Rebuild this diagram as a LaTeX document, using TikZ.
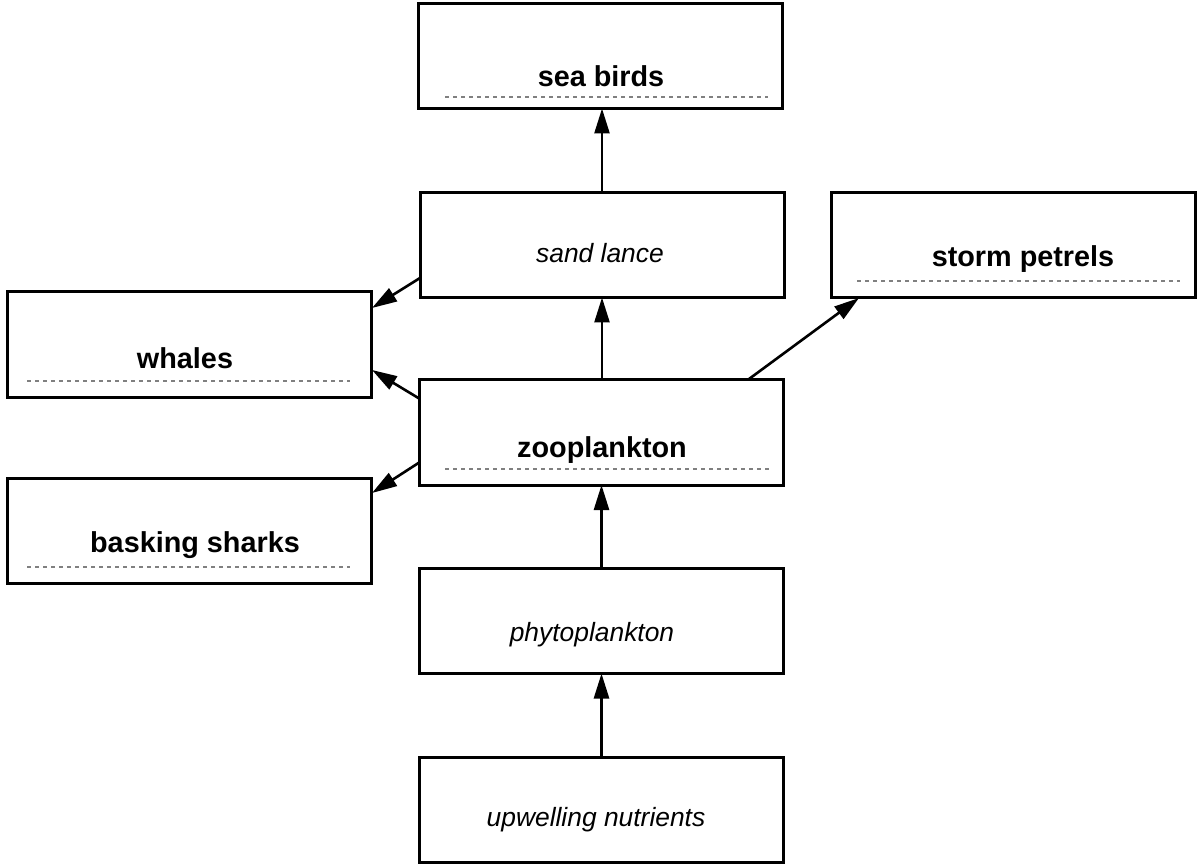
\documentclass[tikz,border=0pt]{standalone}
\usepackage{fontspec}
\setmainfont{Liberation Sans}
\usetikzlibrary{arrows.meta}
\begin{document}
\begin{tikzpicture}[x=0.5pt,y=-0.5pt,
  box/.style={draw=black,line width=1.5pt,fill=white,inner sep=0pt,outer sep=0pt},
  bigbox/.style={box,minimum width=182pt,minimum height=52.5pt},
  boldlbl/.style={font=\fontsize{14.4pt}{16pt}\selectfont\bfseries,anchor=base,inner sep=0pt},
  itlbl/.style={font=\fontsize{13.2pt}{15pt}\selectfont\itshape,anchor=base,inner sep=0pt},
  dotline/.style={draw=black!50,line width=1.2pt,dash pattern=on 1.8pt off 2.2pt},
  arr/.style={draw=black,line width=1.3pt,-{Triangle[length=12.5pt,width=7.5pt]}}]
\useasboundingbox (0,0) rectangle (1200,866);
\fill[white] (0,0) rectangle (1200,866);

% boxes
\node[bigbox] (seabirds) at (600.5,56) {};
\node[bigbox] (sandlance) at (602,245) {};
\node[bigbox] (storm) at (1013,245) {};
\node[bigbox] (whales) at (189.5,344.5) {};
\node[bigbox] (zoo) at (601.5,432.5) {};
\node[bigbox] (basking) at (189.5,531) {};
\node[bigbox] (phyto) at (601.5,621) {};
\node[bigbox] (upw) at (601.5,810) {};

% labels
\node[boldlbl] (tseabirds) at (601,87) {sea birds};
\node[itlbl] (tsandlance) at (600,263) {sand lance};
\node[boldlbl] (tstorm) at (1023,267) {storm petrels};
\node[boldlbl] (twhales) at (185,369) {whales};
\node[boldlbl] (tzoo) at (602,458) {zooplankton};
\node[boldlbl] (tbasking) at (195,552) {basking sharks};
\node[itlbl] (tphyto) at (592,641) {phytoplankton};
\node[itlbl] (tupw) at (596,826) {upwelling nutrients};

% dotted underlines
\draw[dotline] (445,97) -- (768,97);
\draw[dotline] (857,281) -- (1180,281);
\draw[dotline] (27,381) -- (350,381);
\draw[dotline] (445,469) -- (770,469);
\draw[dotline] (27,567) -- (350,567);

% connector endpoints
\coordinate (slw) at (420,278);
\coordinate (whne) at (372,308);
\coordinate (zw1) at (420,399);
\coordinate (whe) at (372,370);
\coordinate (zw2) at (420,462);
\coordinate (bsne) at (372,493);
\coordinate (zne) at (749,379);
\coordinate (stsw) at (859,298);

% vertical arrows
\draw[arr] (upw.north) -- (phyto.south);
\draw[arr] (phyto.north) -- (zoo.south);
\draw[arr] (zoo.north -| sandlance.south) -- (sandlance.south);
\draw[arr] (sandlance.north) -- (sandlance.north |- seabirds.south);

% diagonal arrows
\draw[arr] (slw) -- (whne);
\draw[arr] (zw1) -- (whe);
\draw[arr] (zw2) -- (bsne);
\draw[arr] (zne) -- (stsw);
\end{tikzpicture}
\end{document}
